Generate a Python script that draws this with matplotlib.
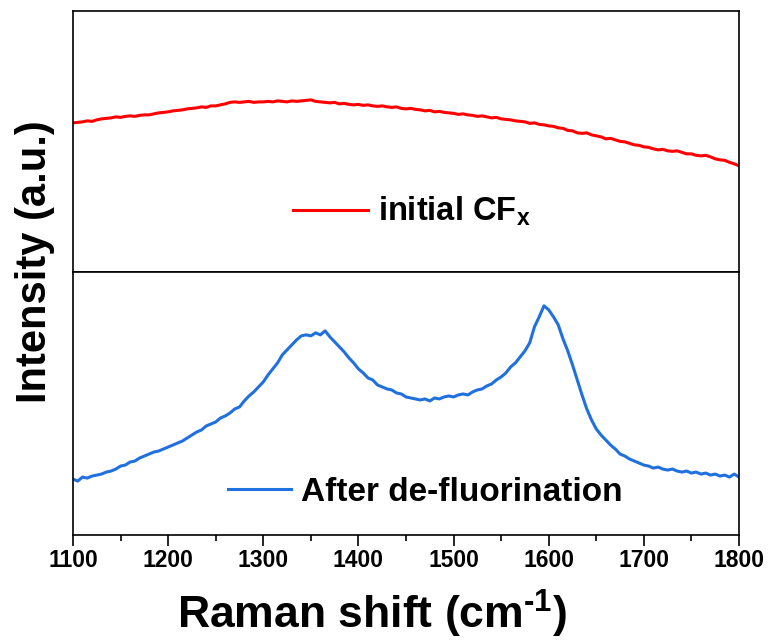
import numpy as np
import matplotlib
matplotlib.use("Agg")
import matplotlib.pyplot as plt
from matplotlib.ticker import MultipleLocator

plt.rcParams["font.family"] = ["Liberation Sans", "DejaVu Sans"]
plt.rcParams["font.weight"] = "bold"
plt.rcParams["mathtext.fontset"] = "custom"
plt.rcParams["mathtext.rm"] = "Liberation Sans:bold"
plt.rcParams["mathtext.it"] = "Liberation Sans:bold"
plt.rcParams["mathtext.bf"] = "Liberation Sans:bold"

# Raman shift grid (cm^-1), 5 cm^-1 step
shift_start, shift_step = 1100, 5

# initial CFx spectrum (a.u.)
cfx_intensity = [
    149, 149.5, 150, 151, 150.5, 152, 153, 153.5, 154, 155,
    154.5, 155.5, 156, 155.5, 156.5, 157, 157, 158, 159, 159.5,
    160, 161, 161.5, 162, 163, 163.5, 164, 165, 164.5, 166,
    166, 167, 168, 169.5, 170, 169.5, 170, 170.5, 169.5, 170,
    170, 170.5, 170, 171, 170.5, 170, 171, 170.5, 171, 171.5,
    172, 170.5, 170, 169.5, 169, 169.5, 168, 168.5, 167.5, 167,
    167.5, 166.5, 167, 166, 165.5, 166, 165, 164.5, 165, 163.5,
    163, 163.5, 162.5, 162, 161, 161.5, 160, 160.5, 159.5, 159,
    158.5, 157.5, 158, 157, 156.5, 155.5, 156, 155, 154, 154.5,
    153, 152.5, 152, 151, 150.5, 150, 148.5, 149, 147.5, 147,
    146, 145.5, 144, 143.5, 141.5, 141, 139, 138.5, 139, 137,
    136, 135, 133, 133.5, 132, 130.5, 130, 128.5, 127, 126.5,
    125, 124.5, 123, 122, 122.5, 121, 120.5, 121, 119.5, 118,
    118, 116.5, 116, 116.5, 115, 113, 112, 111.5, 109.5, 108,
    106,
]

# spectrum after de-fluorination (a.u.)
defluor_intensity = [
    56, 54, 58, 57, 59, 60, 61, 63, 64, 66,
    69, 70, 73, 74, 77, 79, 81, 83, 84, 86,
    88, 90, 92, 94, 97, 100, 103, 105, 109, 111,
    113, 117, 119, 122, 126, 128, 134, 139, 143, 148,
    153, 160, 166, 172, 180, 185, 190, 195, 199, 200,
    199, 202, 200, 204, 198, 193, 188, 183, 177, 172,
    166, 162, 157, 155, 150, 148, 146, 145, 142, 141,
    138, 137, 136, 135, 136, 134, 137, 136, 138, 139,
    138, 140, 141, 140, 143, 145, 146, 149, 151, 155,
    158, 162, 168, 172, 178, 184, 192, 208, 218, 229,
    225, 218, 210, 196, 184, 170, 155, 140, 126, 115,
    106, 100, 95, 90, 86, 81, 79, 76, 74, 72,
    70, 69, 67, 68, 66, 65, 66, 64, 63, 64,
    62, 63, 61, 62, 60, 61, 59, 60, 58, 61,
    58,
]

labels = ["initial CF$_{x}$", "After de-fluorination"]
colors = ["#FF0000", "#2070E0"]

shift_top = shift_start + shift_step * np.arange(len(cfx_intensity))
shift_bot = shift_start + shift_step * np.arange(len(defluor_intensity))

fig = plt.figure(figsize=(7.69, 6.44), dpi=100)
ax_top = fig.add_axes([0.0949, 0.578, 0.8661, 0.405])
ax_bot = fig.add_axes([0.0949, 0.169, 0.8661, 0.409], sharex=ax_top)

ax_top.plot(shift_top, cfx_intensity, color=colors[0], lw=2.2, label=labels[0])
ax_bot.plot(shift_bot, defluor_intensity, color=colors[1], lw=2.2, label=labels[1])

ax_top.set_ylim(0, 261)
ax_bot.set_ylim(0, 263)
ax_bot.set_xlim(1100, 1800)

for ax in (ax_top, ax_bot):
    for sp in ax.spines.values():
        sp.set_linewidth(1.2)
    ax.set_yticks([])

ax_top.tick_params(axis="x", which="both", bottom=False, labelbottom=False)
ax_bot.xaxis.set_major_locator(MultipleLocator(100))
ax_bot.xaxis.set_minor_locator(MultipleLocator(50))
ax_bot.tick_params(axis="x", which="major", direction="out", length=8, width=1.2,
                   labelsize=16.5, pad=2)
ax_bot.tick_params(axis="x", which="minor", direction="out", length=4, width=1.2)
for t in ax_bot.get_xticklabels():
    t.set_fontweight("bold")

ax_top.legend(loc="center", bbox_to_anchor=(0.509, 0.23), frameon=False,
              fontsize=23.5, handlelength=2.3, handletextpad=0.3)
ax_bot.legend(loc="center", bbox_to_anchor=(0.529, 0.163), frameon=False,
              fontsize=24, handlelength=1.9, handletextpad=0.3)

fig.text(0.484, 0.046, "Raman shift (cm$^{\\text{-}1}$)", fontsize=32,
         fontweight="bold", ha="center", va="center")
fig.text(0.045, 0.593, "Intensity (a.u.)", rotation=90, fontsize=30,
         fontweight="bold", ha="center", va="center")

fig.savefig("out.png", dpi=100)
